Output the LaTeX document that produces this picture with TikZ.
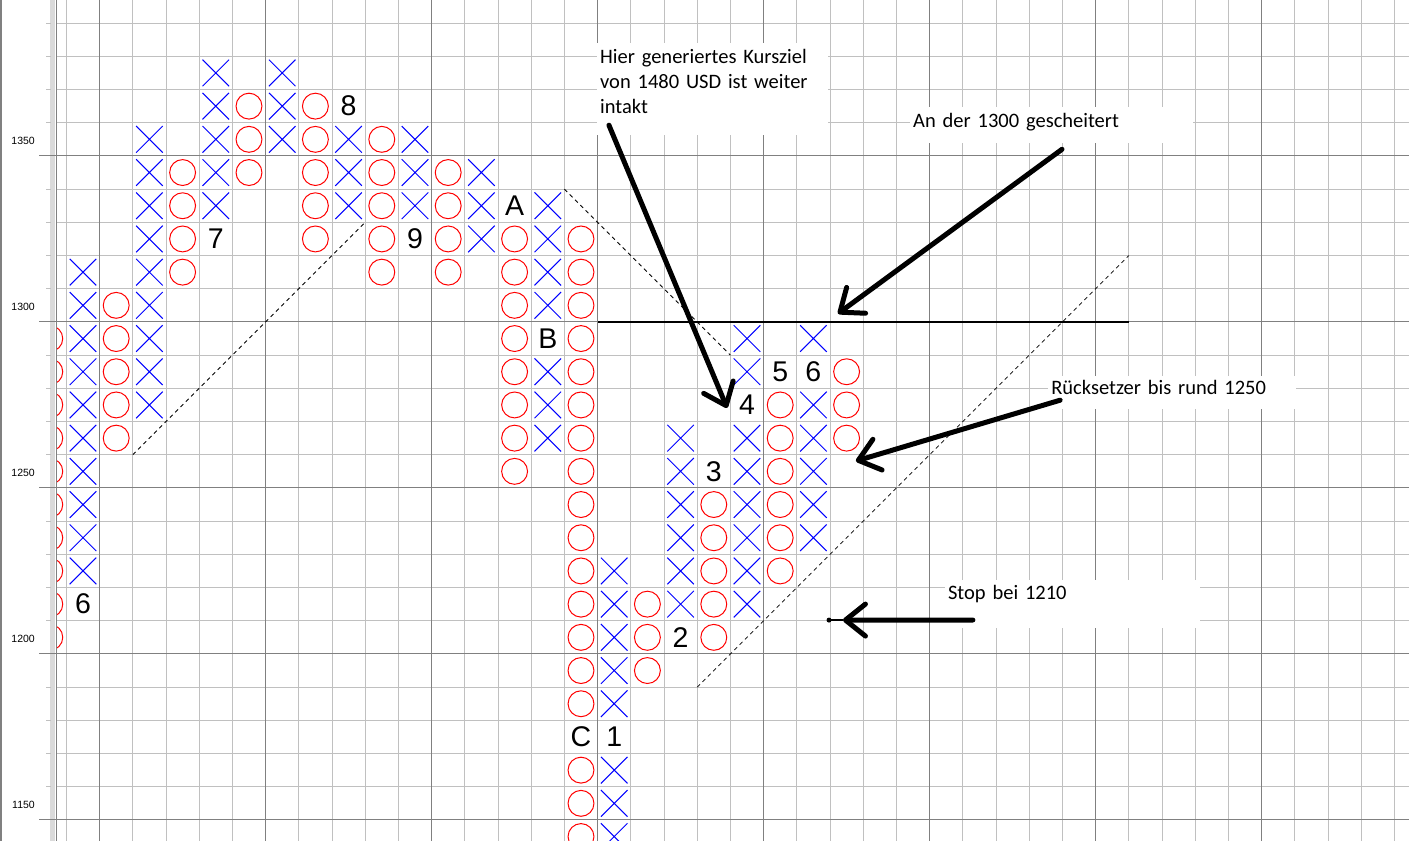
\documentclass[tikz,border=0pt]{standalone}
\usepackage{fontspec}
\setmainfont{Liberation Sans}
\newfontfamily\notefont{Carlito}
\usetikzlibrary{arrows.meta}
\definecolor{gridlight}{RGB}{192,192,192}
\definecolor{griddark}{RGB}{128,128,128}
\definecolor{axisband}{RGB}{218,218,218}

\begin{document}
\begin{tikzpicture}[x=33.2pt, y=33.2pt,
  xbox/.style={blue, line width=1pt},
  obox/.style={red, line width=1pt},
  pflabel/.style={inner sep=0pt, font=\fontsize{28.5}{30}\selectfont},
  axlabel/.style={anchor=east, inner sep=0pt, font=\fontsize{10.5}{12}\selectfont},
  trend/.style={black, line width=0.8pt, dash pattern=on 4pt off 3.5pt},
  pfeil/.style={line width=5pt, line cap=round, -{Straight Barb[length=20pt,width=32pt,round]}},
  note/.style={fill=white, inner xsep=3pt, inner ysep=0pt, anchor=base west, align=left, font=\notefont\fontsize{20.5}{25}\selectfont}]
\useasboundingbox (-2.5,113.8675) rectangle (39.94,139.1988);
\begin{scope}
\clip (-0.813,113.8675) rectangle (39.94,139.1988);
\foreach \c in {-0.5,0.5,...,39.5} \draw[gridlight, line width=1pt] (\c,113.8) -- (\c,139.3);
\foreach \r in {114.5,115.5,...,138.5} \draw[gridlight, line width=1pt] (-1,\r) -- (40,\r);
\foreach \c in {0.5,5.5,...,35.5} \draw[griddark, line width=1pt] (\c,113.8) -- (\c,139.3);
\foreach \r in {114.5,119.5,...,134.5} \draw[griddark, line width=1pt] (-1,\r) -- (40,\r);
\draw[trend] (1.5,125.5) -- (8.5,132.5);
\draw[trend] (14.5,133.5) -- (19.5,128.5);
\draw[trend] (18.5,118.5) -- (31.5,131.5);
\draw[line width=2pt] (15.5,129.5) -- (31.5,129.5);
\foreach \c/\lo/\hi in {0/122/131, 2/127/135, 4/133/137, 6/135/137, 8/133/135, 10/133/135, 12/132/134, 14/126/128, 14/130/133, 16/114/116, 16/118/122, 18/121/126, 20/121/126, 20/128/129, 22/123/127, 22/129/129}
  \foreach \r in {\lo,...,\hi}
    \draw[xbox] (\c-0.4,\r-0.4) -- (\c+0.4,\r+0.4) (\c-0.4,\r+0.4) -- (\c+0.4,\r-0.4);
\foreach \c/\lo/\hi in {-1/120/129, 1/126/130, 3/131/134, 5/134/136, 7/132/136, 9/131/135, 11/131/134, 13/125/132, 15/118/132, 15/113/116, 17/119/121, 19/120/124, 21/122/127, 23/126/128}
  \foreach \r in {\lo,...,\hi}
    \draw[obox] (\c,\r) circle (0.39);
\foreach \c/\r/\t in {0/121/6, 4/132/7, 8/136/8, 10/132/9, 13/133/A, 14/129/B, 15/117/C, 16/117/1, 18/120/2, 19/125/3, 20/127/4, 21/128/5, 22/128/6}
  \node[pflabel] (lab\c) at (\c,\r) {\t};
\end{scope}
\fill[axisband] (-0.994,113.8675) rectangle (-0.843,139.1988);
\draw[griddark, line width=1pt] (-0.813,113.8675) -- (-0.813,139.1988);
\draw[griddark, line width=1.5pt] (-2.477,113.8675) -- (-2.477,139.1988);
\foreach \r in {114.5,115.5,...,138.5} \draw[gridlight, line width=1pt] (-1.114,\r) -- (-0.964,\r);
\foreach \r in {114.5,119.5,...,134.5} \draw[griddark, line width=1pt] (-1.325,\r) -- (-0.813,\r);
\foreach \p in {1150,1200,...,1350} \node[axlabel] (ax\p) at (-1.446,\p/10-0.06) {\p};
\node[note, text width=225pt, text height=21pt, text depth=71pt] (hier) at (15.48,137.27) {Hier generiertes Kursziel\\von 1480 USD ist weiter\\intakt};
\node[note, text width=277pt, text height=20.3pt, text depth=15.7pt] (scheitert) at (24.91,135.36) {An der 1300 gescheitert};
\node[note, text width=242pt, text height=19pt, text depth=14pt] (ruecksetzer) at (29.07,127.30) {Rücksetzer bis rund 1250};
\node[note, text width=249pt, text height=20pt, text depth=28pt] (stop) at (25.96,121.13) {Stop bei 1210};
\coordinate (ziel) at (19.40,126.91);
\coordinate (widerstand) at (22.74,129.75);
\coordinate (boden) at (23.28,125.31);
\coordinate (stopspitze) at (22.89,120.52);
\coordinate (stoppunkt) at (22.47,120.52);
\draw[pfeil] ([shift={(12pt,10pt)}]hier.south west) -- (ziel);
\draw[pfeil] ([shift={(152pt,-6pt)}]scheitert.south west) -- (widerstand);
\draw[pfeil] ([shift={(12pt,9pt)}]ruecksetzer.south west) -- (boden);
\draw[pfeil] ([shift={(28pt,8pt)}]stop.south west) -- (stopspitze);
\draw[line width=1.5pt] (stopspitze) -- (stoppunkt);
\fill (stoppunkt) circle (2.5pt);
\end{tikzpicture}
\end{document}
